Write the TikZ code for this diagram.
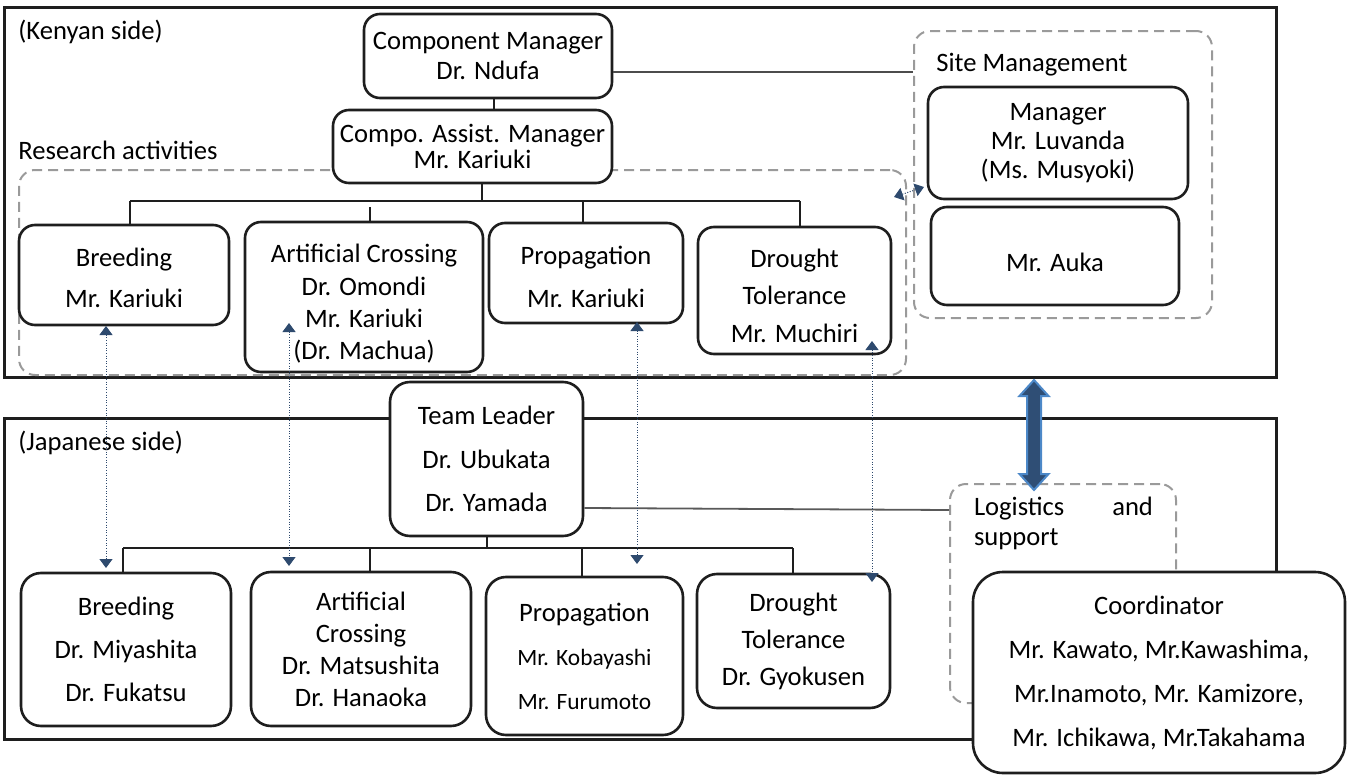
\documentclass[tikz,border=0pt]{standalone}
\usepackage{fontspec}
\setmainfont{Carlito}
\usetikzlibrary{fit,arrows.meta}
\definecolor{ink}{HTML}{1E1E1E}
\definecolor{dashgray}{HTML}{9A9A9A}
\definecolor{linkblue}{HTML}{2E4A6E}
\definecolor{bigfill}{HTML}{2F4E75}
\definecolor{bigedge}{HTML}{4C88C8}
\newcommand\namefont{\fontsize{11.7}{22}\selectfont}
\tikzset{
  unitbox/.style={draw=ink, line width=1.3pt, rounded corners=8pt, fill=white,
    inner sep=0pt, align=center, font=\fontsize{13.3}{15}\selectfont},
  jbox/.style={unitbox, rounded corners=10pt},
  boxtext/.style={inner sep=0pt, align=center, font=\fontsize{13.3}{15}\selectfont},
  ls/.style={font=\fontsize{13.3}{#1}\selectfont},
  outerframe/.style={draw=ink, line width=1.5pt},
  dashgroup/.style={draw=dashgray, line width=1pt, dash pattern=on 5pt off 3pt,
    rounded corners=8pt, inner sep=0pt},
  treeline/.style={draw=ink, line width=1pt},
  thinlink/.style={draw=black!65, line width=0.9pt},
  tag/.style={anchor=west, inner sep=0pt, font=\fontsize{13.3}{15}\selectfont},
  xlink/.style={draw=linkblue, line width=0.5pt, dash pattern=on 0.5pt off 0.8pt,
    {Triangle[width=6.5pt,length=4.5pt]}-{Triangle[width=6.5pt,length=4.5pt]}}
}
\begin{document}
\begin{tikzpicture}[x=0.5pt,y=-0.5pt]
\useasboundingbox (0,0) rectangle (1351,776);

% outer frames of the two sides
\draw[outerframe] (4.5,7) rectangle (1276,377);
\draw[outerframe] (4.5,418) rectangle (1276,739);

% dashed groupings
\node[dashgroup, fit={(19,170)(906,375)}] (research) {};
\node[dashgroup, fit={(914,31)(1212,318)}] (site) {};
\node[dashgroup, fit={(950,484)(1176,703)}] (logistics) {};

% headings
\node[tag] (kenya) at (18,32) {(Kenyan side)};
\node[tag] (restitle) at (18,150) {Research activities};
\node[tag] (sitetitle) at (936,65) {Site Management};
\node[tag] (japan) at (18,443) {(Japanese side)};
\node[inner sep=0pt, text width=89.5pt, align=left, font=\fontsize{13.3}{15}\selectfont]
  (logtitle) at (1063.5,523) {Logistics\hfill and\\support};

% Kenyan side
\node[unitbox, minimum width=124pt, minimum height=42pt] (cm) at (488,56)
  {Component Manager\\Dr. Ndufa};
\node[unitbox, ls=13, minimum width=139.5pt, minimum height=36.5pt] (cam) at (472.5,146.5)
  {Compo. Assist. Manager\\Mr. Kariuki};
\node[unitbox, minimum width=105pt, minimum height=50pt,
  label={[boxtext, ls=20.5, yshift=-1.5pt]center:{Breeding\\Mr. Kariuki}}] (kbreed) at (124,275) {};
\node[unitbox, minimum width=119pt, minimum height=75pt,
  label={[boxtext, ls=16.2, yshift=-3.5pt]center:{Artificial Crossing\\Dr. Omondi\\Mr. Kariuki\\(Dr. Machua)}}]
  (kcross) at (364,297) {};
\node[unitbox, minimum width=97pt, minimum height=50pt,
  label={[boxtext, ls=21.5, yshift=-2pt]center:{Propagation\\Mr. Kariuki}}] (kprop) at (586,273) {};
\node[unitbox, minimum width=96.5pt, minimum height=63.5pt,
  label={[boxtext, ls=18.7, yshift=-2.5pt]center:{Drought\\Tolerance\\Mr. Muchiri}}]
  (kdrought) at (794.5,290.5) {};
\node[unitbox, ls=14.5, minimum width=130pt, minimum height=56pt] (mgr) at (1058,143)
  {Manager\\Mr. Luvanda\\(Ms. Musyoki)};
\node[unitbox, minimum width=124pt, minimum height=49pt,
  label={[boxtext, yshift=-3pt]center:Mr. Auka}] (auka) at (1055,256) {};

% Japanese side
\node[jbox, ls=21.7, minimum width=96.5pt, minimum height=77pt] (tl) at (486.5,459)
  {Team Leader\\Dr. Ubukata\\Dr. Yamada};
\node[jbox, ls=21.5, minimum width=105pt, minimum height=76.5pt] (jbreed) at (126,649.5)
  {Breeding\\Dr. Miyashita\\Dr. Fukatsu};
\node[jbox, ls=16, minimum width=110pt, minimum height=77pt] (jcross) at (361,649)
  {Artificial\\Crossing\\Dr. Matsushita\\Dr. Hanaoka};
\node[jbox, ls=22, minimum width=98.5pt, minimum height=79pt] (jprop) at (584.5,656)
  {Propagation\\\namefont Mr. Kobayashi\\\namefont Mr. Furumoto};
\node[jbox, ls=18.5, minimum width=96.5pt, minimum height=67pt] (jdrought) at (793.5,641)
  {Drought\\Tolerance\\Dr. Gyokusen};
\node[jbox, ls=22, rounded corners=15pt, minimum width=186pt, minimum height=100.5pt] (coord)
  at (1159,672.5)
  {Coordinator\\Mr. Kawato, Mr.Kawashima,\\Mr.Inamoto, Mr. Kamizore,\\Mr. Ichikawa, Mr.Takahama};

% Kenyan hierarchy
\coordinate (cmdrop) at (494,0);
\draw[treeline] (cm.south -| cmdrop) -- (cam.north -| cmdrop);
\coordinate (kbus) at (482,201);
\coordinate (kb1) at (130,201);
\coordinate (kb2) at (370,207);
\coordinate (kb3) at (582.5,201);
\coordinate (kb4) at (800,201);
\draw[treeline] (cam.south -| kbus) -- (kbus);
\draw[treeline] (kb1) -- (kb4);
\draw[treeline] (kb1) -- (kb1 |- kbreed.north);
\draw[treeline] (kb2) -- (kb2 |- kcross.north);
\draw[treeline] (kb3) -- (kb3 |- kprop.north);
\draw[treeline] (kb4) -- (kb4 |- kdrought.north);
\draw[thinlink, draw=black!70, line width=1pt] ([yshift=-8pt]cm.east) -- ([yshift=-8pt]cm.east -| site.west);

% Japanese hierarchy
\coordinate (jbus) at (487,548);
\coordinate (jb1) at (123,548);
\coordinate (jb2) at (370,548);
\coordinate (jb3) at (581.6,548);
\coordinate (jb4) at (793,548);
\draw[treeline] (tl.south -| jbus) -- (jbus);
\draw[treeline] (jb1) -- (jb4);
\draw[treeline] (jb1) -- (jb1 |- jbreed.north);
\draw[treeline] (jb2) -- (jb2 |- jcross.north);
\draw[treeline] (jb3) -- (jb3 |- jprop.north);
\draw[treeline] (jb4) -- (jb4 |- jdrought.north);
\draw[thinlink] ([yshift=-24.5pt]tl.east) -- ([yshift=41.75pt]logistics.west);

% counterpart links between the two sides
\coordinate (k1) at (106,326);  \coordinate (j1) at (106,568);
\coordinate (k2) at (289,323);  \coordinate (j2) at (289,566);
\coordinate (k3) at (637,322);  \coordinate (j3) at (637,564);
\coordinate (k4) at (872,341);  \coordinate (j4) at (872,582);
\draw[xlink] (k1) -- (j1);
\draw[xlink] (k2) -- (j2);
\draw[xlink] (k3) -- (j3);
\draw[xlink] (k4) -- (j4);
\coordinate (rs1) at (894,197); \coordinate (rs2) at (924,187);
\draw[xlink] (rs1) -- (rs2);

% broad two-way arrow between site management and logistics
\draw[draw=bigedge, fill=bigfill, line width=1pt, line join=miter]
  (1034,380) -- (1048.5,396) -- (1041,396) -- (1041,474) -- (1048.5,474)
  -- (1034,490) -- (1019.5,474) -- (1027,474) -- (1027,396) -- (1019.5,396) -- cycle;
\end{tikzpicture}
\end{document}
